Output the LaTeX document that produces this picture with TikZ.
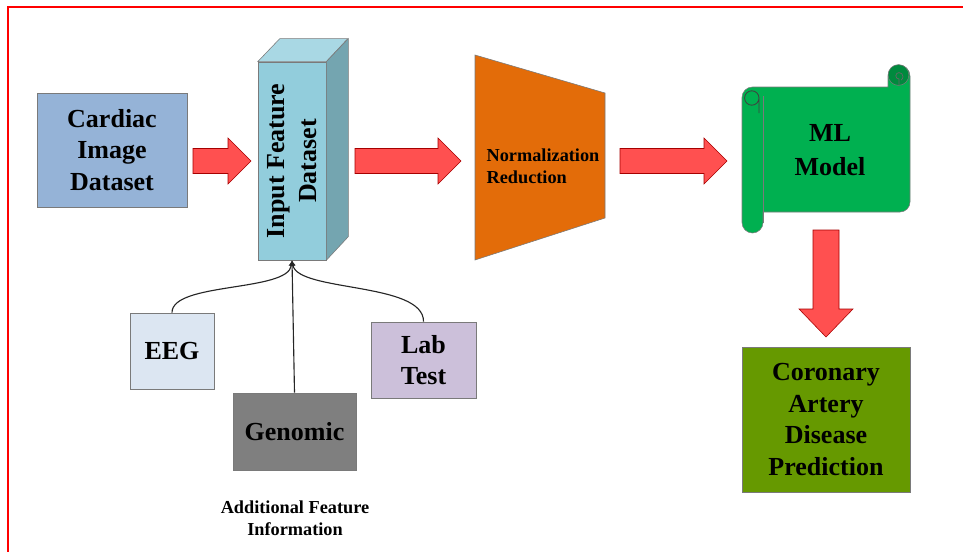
\documentclass[tikz,border=0pt]{standalone}
\usepackage{fontspec}
\setmainfont{Liberation Serif}
\usetikzlibrary{arrows.meta}

\definecolor{cardiacblue}{HTML}{95B3D7}
\definecolor{inputfront}{HTML}{92CDDC}
\definecolor{inputtop}{HTML}{A9D8E4}
\definecolor{inputside}{HTML}{74A5B0}
\definecolor{normorange}{HTML}{E36C09}
\definecolor{blockred}{HTML}{FF5050}
\definecolor{mlgreen}{HTML}{00B050}
\definecolor{mldark}{HTML}{008A3E}
\definecolor{predgreen}{HTML}{669900}
\definecolor{eegblue}{HTML}{DCE6F2}
\definecolor{genomicgray}{HTML}{7F7F7F}
\definecolor{labviolet}{HTML}{CCC0DA}
\definecolor{boxgray}{HTML}{7A7A7A}

% block arrow pointing right: x start, x end, y of the axis
\newcommand{\rightblock}[3]{%
	\draw [blockarrow] (#1,#3-12.5) -- (#2-23,#3-12.5) -- (#2-23,#3-23) -- (#2,#3) -- (#2-23,#3+23) -- (#2-23,#3+12.5) -- (#1,#3+12.5) -- cycle;}

\begin{document}
\begin{tikzpicture}[x=0.025cm,y=-0.025cm,
	big/.style={font=\bfseries\fontsize{18.5}{22.3}\selectfont},
	small/.style={font=\bfseries\fontsize{13}{15.6}\selectfont},
	databox/.style={draw=boxgray, line width=0.6pt, align=center, inner sep=0, big},
	blockarrow/.style={draw=red!65!black, line width=0.4pt, fill=blockred},
	feedline/.style={draw=black!85, line width=0.8pt, -{Latex[length=4pt,width=4pt]}}]

	\useasboundingbox (0,0) rectangle (963,552);
	\draw [red, line width=1pt] (8,552) -- (8,7) -- (963,7);

	\node[databox, fill=cardiacblue, minimum width=3.75cm, minimum height=2.85cm] (cardiac) at (112,150) {Cardiac\\Image\\Dataset};

	% cuboid
	\node[draw=boxgray, fill=inputfront, minimum width=1.7cm, minimum height=4.95cm, inner sep=0] (input) at (292,161) {};
	\draw [draw=boxgray, fill=inputtop] (input.north west) -- ++(22,-23) -- ++(68,0) -- (input.north east) -- cycle;
	\draw [draw=boxgray, fill=inputside] (input.north east) -- ++(22,-23) -- ++(0,198) -- (input.south east) -- cycle;
	\node[rotate=90, align=center, big] (inputtext) at (input.center) {Input Feature\\Dataset};

	\draw [draw=boxgray, fill=normorange] (475,55) -- (605,93) -- (605,218) -- (475,260) -- cycle;
	\node[align=left, inner sep=0, small] (norm) at (543,166) {Normalization\\Reduction};

	% scroll
	\draw [draw=boxgray, fill=mlgreen] (763,212) -- (900,212) arc[start angle=-90,end angle=0,radius=0.25cm]
		-- (910,76) arc[start angle=0,end angle=180,radius=0.275cm] -- (888,87) -- (752.5,87)
		arc[start angle=90,end angle=180,radius=0.2625cm] -- (742,222.5)
		arc[start angle=180,end angle=360,radius=0.2625cm] -- cycle;
	\draw [draw=boxgray] (763,96) -- (763,222.5);
	\draw [draw=black!75, line width=0.6pt] (759,113) -- (759,98) arc[start angle=0,end angle=360,radius=0.18cm];
	\draw [draw=boxgray, fill=mldark] (898.5,75) circle[radius=0.26cm];
	\draw [draw=black!60, line width=0.5pt] (899,86) -- (899,79) arc[start angle=-90,end angle=-270,radius=0.08cm]
		arc[start angle=90,end angle=-60,radius=0.1cm];
	\node[align=center, font=\bfseries\fontsize{18.5}{24}\selectfont] (ml) at (830,150) {ML\\Model};

	\node[databox, fill=predgreen, minimum width=4.2cm, minimum height=3.625cm] (predict) at (826,419.5) {Coronary\\Artery\\Disease\\Prediction};

	\rightblock{193}{251}{161}
	\rightblock{355}{461}{161}
	\rightblock{620}{727}{161}
	\draw [blockarrow] (813,230) -- (839,230) -- (839,309) -- (853,309) -- (826,337) -- (799,309) -- (813,309) -- cycle;

	\node[databox, fill=eegblue, minimum width=2.1cm, minimum height=1.9cm] (eeg) at (172,351) {EEG};
	\node[databox, fill=genomicgray, minimum width=3.075cm, minimum height=1.925cm] (genomic) at (294.5,431.5) {Genomic};
	\node[databox, fill=labviolet, minimum width=2.625cm, minimum height=1.9cm] (lab) at (423.5,360) {Lab\\Test};

	\draw [feedline] (eeg.north) .. controls (172,282) and (288,292) .. (input.south);
	\draw [feedline] (genomic.north) -- (input.south);
	\draw [feedline] (lab.north) .. controls (424,282) and (298,292) .. (input.south);

	\node[align=center, small] (caption) at (295,518) {Additional Feature\\Information};

\end{tikzpicture}
\end{document}
